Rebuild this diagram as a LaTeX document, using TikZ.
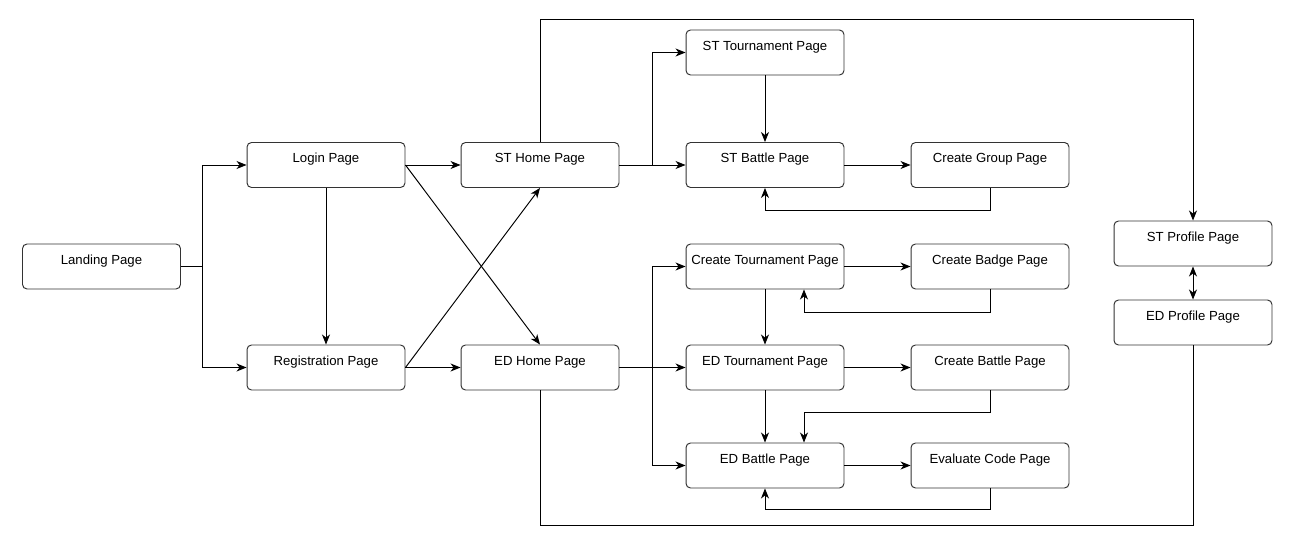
\documentclass[tikz,border=0pt]{standalone}
\usepackage{fontspec}
\setmainfont{Liberation Sans}
\usetikzlibrary{calc, arrows.meta, positioning}

\tikzset{
  page/.style={draw=black!80, line width=0.55pt, rounded corners=0.09cm, fill=white,
    minimum width=3.16cm, inner xsep=0pt, inner ysep=0pt,
    text height=0.41cm, text depth=0.49cm, font=\fontsize{7.5}{9}\selectfont},
  tip/.tip={Stealth[length=2mm, width=1.6mm, inset=0.6mm]},
  arr/.style={-tip, line width=0.55pt},
  dblarr/.style={tip-tip, line width=0.55pt},
  link/.style={line width=0.55pt}
}

\begin{document}
\begin{tikzpicture}[x=0.02cm, y=-0.02cm]
    \useasboundingbox (0,0) rectangle (1303,540);

    % pages
    \node[page] (landing) at (101.5,266.5) {Landing Page};
    \node[page] (login) at (326,165) {Login Page};
    \node[page] (reg) at (326,367.5) {Registration Page};
    \node[page] (sthome) at (540,165) {ST Home Page};
    \node[page] (edhome) at (540,367.5) {ED Home Page};
    \node[page] (sttour) at (765,52.5) {ST Tournament Page};
    \node[page] (stbattle) at (765,165) {ST Battle Page};
    \node[page] (crgroup) at (990,165) {Create Group Page};
    \node[page] (crtour) at (765,266.5) {Create Tournament Page};
    \node[page] (crbadge) at (990,266.5) {Create Badge Page};
    \node[page] (edtour) at (765,367.5) {ED Tournament Page};
    \node[page] (crbattle) at (990,367.5) {Create Battle Page};
    \node[page] (edbattle) at (765,465.5) {ED Battle Page};
    \node[page] (evalcode) at (990,465.5) {Evaluate Code Page};
    \node[page] (stprof) at (1193,243.5) {ST Profile Page};
    \node[page] (edprof) at (1193,322.5) {ED Profile Page};

    % landing and sign in
    \draw[arr] (landing.east) -- ++(22,0) |- (login.west);
    \draw[arr] (landing.east) -- ++(22,0) |- (reg.west);
    \draw[arr] (login) -- (sthome);
    \draw[arr] (reg) -- (edhome);
    \draw[arr] (login) -- (reg);
    \draw[arr] (login.east) -- (edhome.north);
    \draw[arr] (reg.east) -- (sthome.south);

    % student side
    \draw[arr] (sthome) -- (stbattle);
    \draw[arr] (sthome.east) -- ++(33,0) |- (sttour.west);
    \draw[arr] (sttour) -- (stbattle);
    \draw[arr] (stbattle) -- (crgroup);
    \draw[arr] (crgroup.south) -- ++(0,23) -| (stbattle.south);

    % educator side
    \draw[arr] (edhome) -- (edtour);
    \draw[arr] (edhome.east) -- ++(33,0) |- (crtour.west);
    \draw[arr] (edhome.east) -- ++(33,0) |- (edbattle.west);
    \draw[arr] (crtour) -- (crbadge);
    \draw[arr] (crbadge.south) -- ++(0,23) -| ($(crtour.south)+(39,0)$);
    \draw[arr] (crtour) -- (edtour);
    \draw[arr] (edtour) -- (crbattle);
    \draw[arr] (crbattle.south) -- ++(0,22) -| ($(edbattle.north)+(39,0)$);
    \draw[arr] (edtour) -- (edbattle);
    \draw[arr] (edbattle) -- (evalcode);
    \draw[arr] (evalcode.south) -- ++(0,21) -| (edbattle.south);

    % profiles
    \draw[arr] (sthome.north) -- ++(0,-123) -| (stprof.north);
    \draw[link] (edhome.south) -- ++(0,135) -| (edprof.south);
    \draw[dblarr] (stprof) -- (edprof);
\end{tikzpicture}
\end{document}
